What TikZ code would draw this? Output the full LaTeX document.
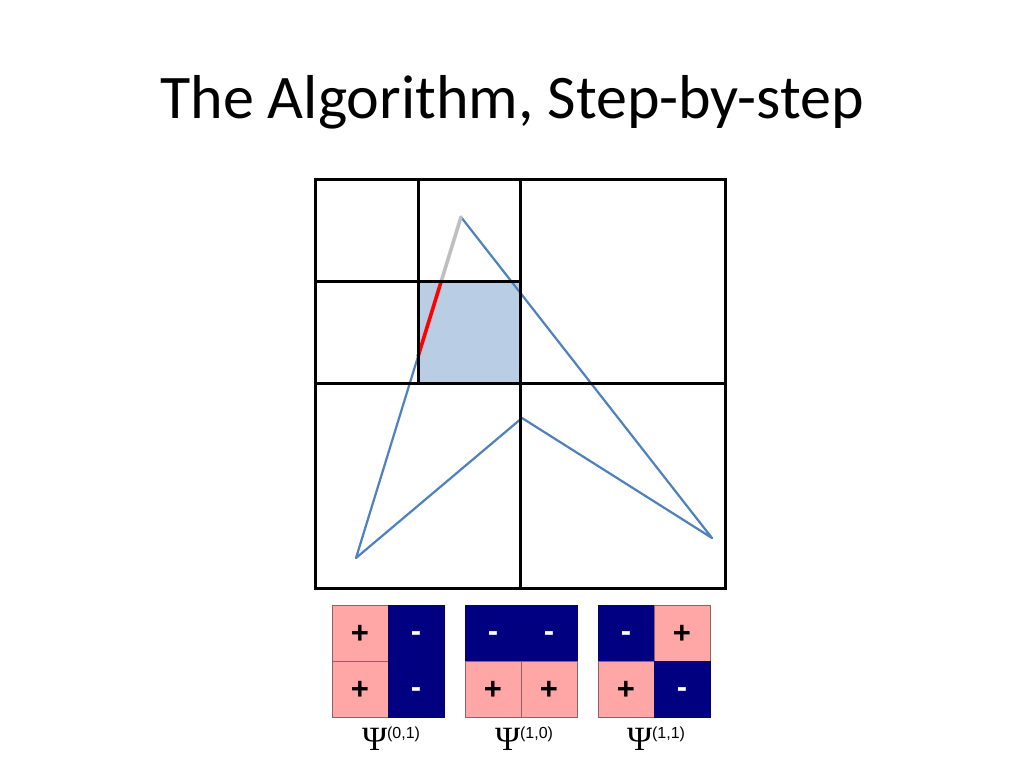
\documentclass[tikz,border=0pt]{standalone}
\usepackage{fontspec}
\setmainfont{Carlito}
\newfontfamily\psiserif{Liberation Serif}
\newfontfamily\supsans{Liberation Sans}
\definecolor{gridblue}{HTML}{4F81BD}
\definecolor{cellfill}{HTML}{B9CDE5}
\definecolor{pinkcell}{HTML}{FFA6A6}
\definecolor{navycell}{HTML}{000080}
\definecolor{cellborder}{HTML}{8C6464}
\begin{document}
\begin{tikzpicture}[x=1pt,y=-1pt,
  gridline/.style={line width=3pt,black},
  polyline/.style={line width=2.2pt,gridblue,line join=round},
  pinkbox/.style={fill=pinkcell,draw=cellborder,line width=0.5pt},
  navybox/.style={fill=navycell,draw=navycell,line width=0.5pt},
  plusmark/.style={font=\supsans\bfseries\fontsize{31}{31}\selectfont,text=black,inner sep=0pt},
  minusmark/.style={font=\supsans\bfseries\fontsize{31}{31}\selectfont,text=white,inner sep=0pt,anchor=base},
  psilabel/.style={anchor=base,inner sep=0pt}
]
\useasboundingbox (0,0) rectangle (1024,768);
\fill[white] (0,0) rectangle (1024,768);
% title
\node[anchor=base,inner sep=0pt,font=\fontsize{62}{62}\selectfont] (title) at (512,118) {The Algorithm, Step-by-step};
% shaded cell
\fill[cellfill] (418,281) rectangle (520,383);
% polygon
\coordinate (apex) at (461,217);
\coordinate (lb) at (356,558);
\coordinate (mid) at (522,418);
\coordinate (rt) at (712,538);
\coordinate (pg) at (441.3,281);
\coordinate (pr) at (418,356.6);
\draw[polyline] (pr) -- (lb) -- (mid) -- (rt) -- (apex);
\draw[line width=3.6pt,black!25,line cap=round] (apex) -- (pg);
\draw[line width=3.6pt,red] (pg) -- (pr);
% grid
\draw[gridline] (315,179) rectangle (725,588);
\draw[gridline] (520,179) -- (520,588);
\draw[gridline] (315,383) -- (725,383);
\draw[gridline] (418,179) -- (418,383);
\draw[gridline] (315,281) -- (520,281);
% basis boxes
% box 1
\draw[pinkbox] (332,605) rectangle (388,661);
\draw[pinkbox] (332,661) rectangle (388,717);
\draw[navybox] (388,605) rectangle (444,661);
\draw[navybox] (388,661) rectangle (444,717);
\node[plusmark] (a1) at (360,634) {+};
\node[plusmark] (a2) at (360,690) {+};
\node[minusmark] (a3) at (416,641.7) {-};
\node[minusmark] (a4) at (416,697.7) {-};
% box 2
\draw[navybox] (465,605) rectangle (521,661);
\draw[navybox] (521,605) rectangle (577,661);
\draw[pinkbox] (465,661) rectangle (521,717);
\draw[pinkbox] (521,661) rectangle (577,717);
\node[minusmark] (b1) at (493,641.7) {-};
\node[minusmark] (b2) at (549,641.7) {-};
\node[plusmark] (b3) at (493,690) {+};
\node[plusmark] (b4) at (549,690) {+};
% box 3
\draw[navybox] (598,605) rectangle (654,661);
\draw[pinkbox] (654,605) rectangle (710,661);
\draw[pinkbox] (598,661) rectangle (654,717);
\draw[navybox] (654,661) rectangle (710,717);
\node[minusmark] (c1) at (626,641.7) {-};
\node[plusmark] (c2) at (682,634) {+};
\node[plusmark] (c3) at (626,690) {+};
\node[minusmark] (c4) at (682,697.7) {-};
% labels
\node[psilabel] (p1) at (391,750) {\psiserif\fontsize{34}{34}\selectfont Ψ\raisebox{12pt}{\supsans\fontsize{16}{16}\selectfont (0,1)}};
\node[psilabel] (p2) at (524,750) {\psiserif\fontsize{34}{34}\selectfont Ψ\raisebox{12pt}{\supsans\fontsize{16}{16}\selectfont (1,0)}};
\node[psilabel] (p3) at (656,750) {\psiserif\fontsize{34}{34}\selectfont Ψ\raisebox{12pt}{\supsans\fontsize{16}{16}\selectfont (1,1)}};
\end{tikzpicture}
\end{document}
